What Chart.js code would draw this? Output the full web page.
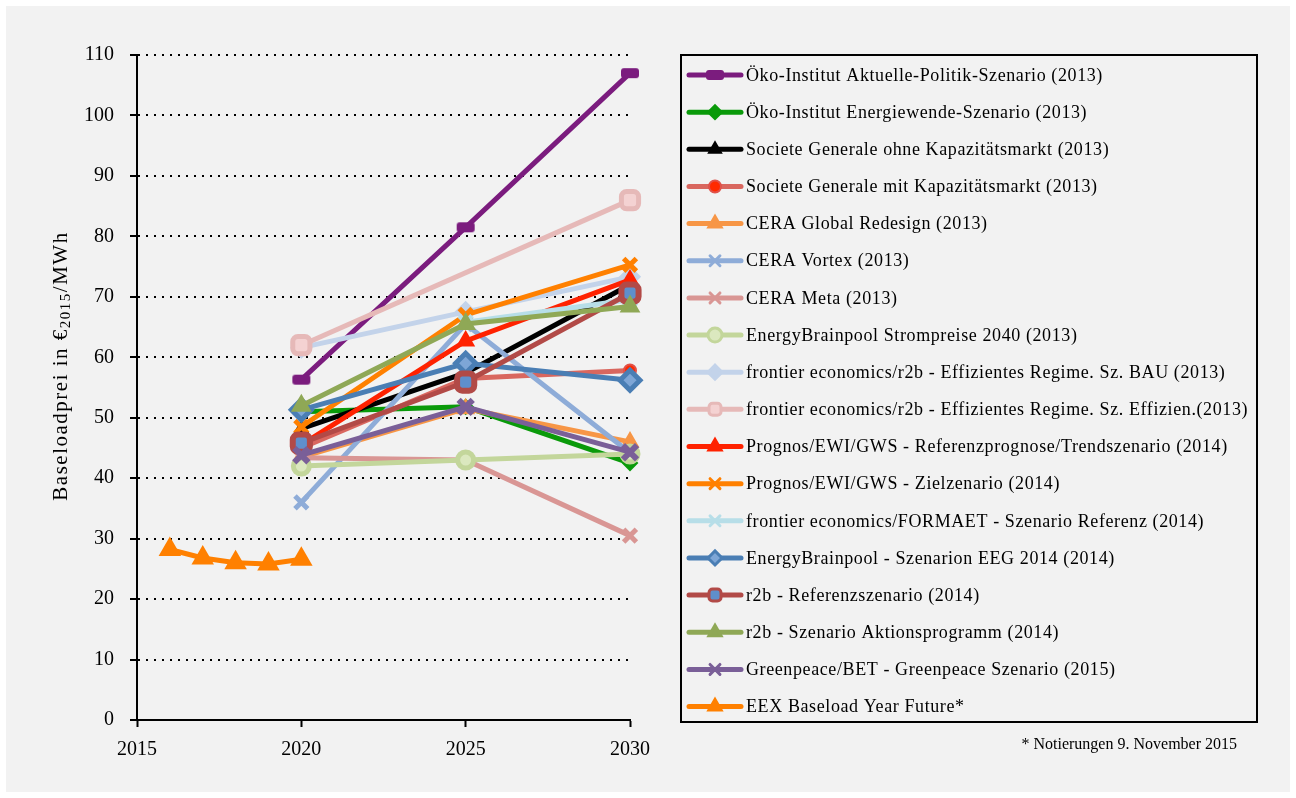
<!DOCTYPE html>
<html>
<head>
<meta charset="utf-8">
<script src="https://cdn.jsdelivr.net/npm/chart.js@4/dist/chart.umd.min.js"></script>
<style>
  html, body { margin: 0; padding: 0; background: #fff; }
</style>
</head>
<body>
<canvas id="chart" width="1296" height="798"></canvas>
<script>
// Jahre der Szenarien
const years = [2020, 2025, 2030];
const eexYears = [2016, 2017, 2018, 2019, 2020];

const seriesNames = [
  'Öko-Institut Aktuelle-Politik-Szenario (2013)',
  'Öko-Institut Energiewende-Szenario (2013)',
  'Societe Generale ohne Kapazitätsmarkt (2013)',
  'Societe Generale mit Kapazitätsmarkt (2013)',
  'CERA Global Redesign (2013)',
  'CERA Vortex (2013)',
  'CERA Meta (2013)',
  'EnergyBrainpool Strompreise 2040 (2013)',
  'frontier economics/r2b - Effizientes Regime. Sz. BAU (2013)',
  'frontier economics/r2b - Effizientes Regime. Sz. Effizien.(2013)',
  'Prognos/EWI/GWS - Referenzprognose/Trendszenario (2014)',
  'Prognos/EWI/GWS - Zielzenario (2014)',
  'frontier economics/FORMAET - Szenario Referenz (2014)',
  'EnergyBrainpool - Szenarion EEG 2014 (2014)',
  'r2b - Referenzszenario (2014)',
  'r2b - Szenario Aktionsprogramm (2014)',
  'Greenpeace/BET - Greenpeace Szenario (2015)',
  'EEX Baseload Year Future*'
];

// Werte in €2015/MWh
const oekoAktuellePolitik = [56.3, 81.5, 107.0];
const oekoEnergiewende = [51.0, 51.8, 42.5];
const sgOhneKapazitaet = [48.2, 57.4, 72.0];
const sgMitKapazitaet = [45.0, 56.5, 57.8];
const ceraGlobalRedesign = [43.5, 51.5, 46.0];
const ceraVortex = [36.0, 65.5, 44.2];
const ceraMeta = [43.4, 43.0, 30.5];
const ebStrompreise2040 = [42.0, 43.0, 44.0];
const frontierBau = [61.6, 67.5, 73.3];
const frontierEffizient = [62.0, null, 86.0];
const prognosReferenz = [45.5, 62.7, 72.8];
const prognosZiel = [48.5, 67.0, 75.3];
const frontierFormaet = [null, 65.8, 69.5];
const ebEeg2014 = [51.3, 59.0, 56.2];
const r2bReferenz = [45.8, 55.9, 70.6];
const r2bAktion = [52.0, 65.5, 68.4];
const greenpeace = [43.8, 51.8, 44.3];
const eexFuture = [28.2, 26.8, 26.0, 25.8, 26.6];

const seriesValues = [
  oekoAktuellePolitik, oekoEnergiewende, sgOhneKapazitaet, sgMitKapazitaet,
  ceraGlobalRedesign, ceraVortex, ceraMeta, ebStrompreise2040, frontierBau,
  frontierEffizient, prognosReferenz, prognosZiel, frontierFormaet, ebEeg2014,
  r2bReferenz, r2bAktion, greenpeace, eexFuture
];

// breiter Marker für Öko-Institut
function barMarker(color) {
  const c = document.createElement('canvas');
  c.width = 20; c.height = 12;
  const g = c.getContext('2d');
  g.fillStyle = color;
  g.beginPath();
  g.roundRect(1, 1, 18, 10, 3);
  g.fill();
  return c;
}

// Linienfarbe, Markerform, Markerfüllung, Randfarbe, Radius, Randbreite
const styles = [
  { line: '#7b1c7e', shape: barMarker('#7b1c7e'), fill: '#7b1c7e', edge: '#7b1c7e', r: 8, bw: 1 },
  { line: '#0a9a0a', shape: 'rectRot', fill: '#0a9a0a', edge: '#0a9a0a', r: 7, bw: 2 },
  { line: '#000000', shape: 'triangle', fill: '#000000', edge: '#000000', r: 7, bw: 2 },
  { line: '#d9675f', shape: 'circle', fill: '#ff2a00', edge: '#e0524a', r: 6, bw: 2 },
  { line: '#f79646', shape: 'triangle', fill: '#f79646', edge: '#f79646', r: 8, bw: 3 },
  { line: '#8eacd8', shape: 'crossRot', fill: '#8eacd8', edge: '#8eacd8', r: 9, bw: 5 },
  { line: '#d99694', shape: 'crossRot', fill: '#d99694', edge: '#d99694', r: 9, bw: 5 },
  { line: '#c3d69b', shape: 'circle', fill: '#dbe8bf', edge: '#c3d69b', r: 8, bw: 5 },
  { line: '#c3d3ea', shape: 'rectRot', fill: '#c3d3ea', edge: '#c3d3ea', r: 9, bw: 3 },
  { line: '#e6b9b8', shape: 'rectRounded', fill: '#f4d2d2', edge: '#e6b9b8', r: 10, bw: 5 },
  { line: '#ff2200', shape: 'triangle', fill: '#ff2200', edge: '#ff2200', r: 8, bw: 3 },
  { line: '#ff8000', shape: 'crossRot', fill: '#ff8000', edge: '#ff8000', r: 9, bw: 5 },
  { line: '#b7dee8', shape: 'crossRot', fill: '#b7dee8', edge: '#b7dee8', r: 9, bw: 5 },
  { line: '#4a7eb4', shape: 'rectRot', fill: '#7ea6d6', edge: '#4a7eb4', r: 10, bw: 5 },
  { line: '#b24a47', shape: 'rectRounded', fill: '#5f8fcc', edge: '#b24a47', r: 10, bw: 6 },
  { line: '#8fa856', shape: 'triangle', fill: '#8fa856', edge: '#8fa856', r: 9, bw: 3 },
  { line: '#7a5f98', shape: 'crossRot', fill: '#7a5f98', edge: '#7a5f98', r: 10, bw: 6 },
  { line: '#ff8000', shape: 'triangle', fill: '#ff8000', edge: '#ff8000', r: 10, bw: 3 }
];

const FONT = "'Liberation Serif', 'Times New Roman', serif";
Chart.defaults.font.family = FONT;
Chart.defaults.color = '#000';

const datasets = seriesNames.map((name, i) => {
  const xs = i === seriesNames.length - 1 ? eexYears : years;
  const st = styles[i];
  return {
    label: name,
    data: seriesValues[i].map((v, k) => ({ x: xs[k], y: v })),
    borderColor: st.line,
    borderWidth: 5,
    pointStyle: st.shape,
    pointRadius: st.r,
    pointBorderWidth: st.bw,
    pointBackgroundColor: st.fill,
    pointBorderColor: st.edge,
    spanGaps: true,
    tension: 0,
    clip: false,
    order: seriesNames.length - i
  };
});

const decor = {
  id: 'decor',
  beforeDraw(chart) {
    const ctx = chart.ctx;
    ctx.save();
    ctx.fillStyle = '#ffffff';
    ctx.fillRect(0, 0, chart.width, chart.height);
    ctx.fillStyle = '#f2f2f2';
    ctx.fillRect(6, 6, 1284, 786);
    ctx.restore();
  },
  afterDraw(chart) {
    const ctx = chart.ctx;

    // Achsentitel mit tiefgestelltem 2015
    ctx.save();
    ctx.translate(61, 366);
    ctx.rotate(-Math.PI / 2);
    ctx.fillStyle = '#000';
    ctx.textBaseline = 'middle';
    ctx.letterSpacing = '1.5px';
    const big = '21px ' + FONT, small = '15px ' + FONT;
    const parts = [['Baseloadprei in €', big, 0], ['2015', small, 5], ['/MWh', big, 0]];
    let total = 0;
    parts.forEach(p => { ctx.font = p[1]; total += ctx.measureText(p[0]).width; });
    let x = -total / 2;
    parts.forEach(p => {
      ctx.font = p[1];
      ctx.fillText(p[0], x, p[2]);
      x += ctx.measureText(p[0]).width;
    });
    ctx.restore();

    // Legende
    ctx.save();
    ctx.strokeStyle = '#000';
    ctx.lineWidth = 2;
    ctx.strokeRect(681, 55, 576, 667);
    seriesNames.forEach((name, i) => {
      const st = styles[i];
      const y = 75 + i * 37.15;
      ctx.strokeStyle = st.line;
      ctx.lineWidth = 5;
      ctx.lineCap = 'round';
      ctx.beginPath();
      ctx.moveTo(689, y);
      ctx.lineTo(741, y);
      ctx.stroke();
      ctx.fillStyle = st.fill;
      ctx.strokeStyle = st.edge;
      ctx.lineWidth = Math.min(st.bw, 3);
      Chart.helpers.drawPoint(ctx, {
        pointStyle: st.shape, radius: Math.min(st.r, 7), rotation: 0, borderWidth: Math.min(st.bw, 3)
      }, 715, y);
      ctx.fillStyle = '#000';
      ctx.font = '18px ' + FONT;
      ctx.letterSpacing = '0.6px';
      ctx.textBaseline = 'middle';
      ctx.textAlign = 'left';
      ctx.fillText(name, 746, y + 1);
      ctx.letterSpacing = '0px';
    });

    // Fußnote
    ctx.font = '16px ' + FONT;
    ctx.textAlign = 'right';
    ctx.fillText('* Notierungen 9. November 2015', 1237, 745);
    ctx.restore();
  }
};

new Chart(document.getElementById('chart'), {
  type: 'line',
  data: { datasets },
  plugins: [decor],
  options: {
    responsive: false,
    animation: false,
    devicePixelRatio: 1,
    layout: { padding: { left: 40, top: 55, right: 666, bottom: 36 } },
    plugins: { legend: { display: false }, tooltip: { enabled: false } },
    scales: {
      x: {
        type: 'linear',
        min: 2015,
        max: 2030,
        ticks: { stepSize: 5, font: { size: 20 }, padding: 11, color: '#000', callback: v => String(v) },
        grid: { drawOnChartArea: false, tickLength: 7, tickColor: '#000', tickWidth: 2 },
        border: { color: '#000', width: 2 },
        afterFit: s => { s.height = 42; }
      },
      y: {
        min: 0,
        max: 110,
        ticks: { stepSize: 10, font: { size: 20 }, padding: 16, color: '#000' },
        grid: {
          color: '#000', lineWidth: 2,
          tickLength: 7, tickColor: '#000', tickWidth: 2, tickBorderDash: []
        },
        border: { color: '#000', width: 2, dash: [2, 6] },
        afterFit: s => { s.width = 97; }
      }
    }
  }
});
</script>
</body>
</html>
